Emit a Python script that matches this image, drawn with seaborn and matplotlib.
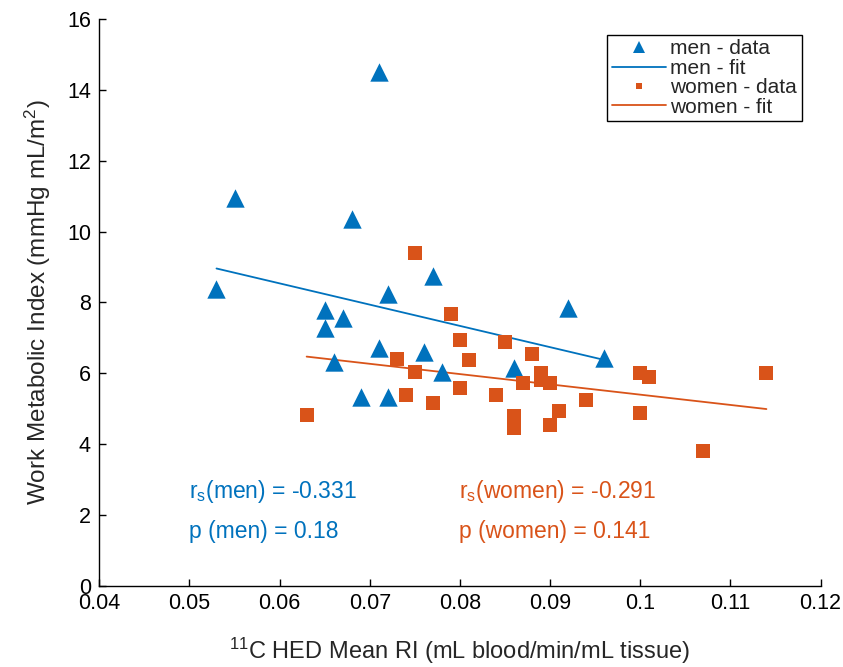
import numpy as np
import pandas as pd
import seaborn as sns
import matplotlib
matplotlib.use("Agg")
import matplotlib.pyplot as plt
from matplotlib.lines import Line2D

# ---- data ----
men_x = [0.053, 0.055, 0.071, 0.068, 0.077, 0.072, 0.065, 0.067, 0.065,
         0.092, 0.096, 0.071, 0.076, 0.066, 0.078, 0.086, 0.069, 0.072]
men_y = [8.38, 10.95, 14.51, 10.34, 8.75, 8.24, 7.78, 7.55, 7.27,
         7.83, 6.42, 6.70, 6.61, 6.32, 6.04, 6.15, 5.32, 5.34]

women_x = [0.063, 0.073, 0.074, 0.075, 0.075, 0.077, 0.079, 0.080, 0.080,
           0.081, 0.084, 0.085, 0.086, 0.086, 0.087, 0.088, 0.089, 0.089,
           0.090, 0.090, 0.091, 0.094, 0.100, 0.101, 0.100, 0.107, 0.114]
women_y = [4.83, 6.39, 5.38, 9.38, 6.02, 5.15, 7.66, 6.94, 5.57,
           6.37, 5.38, 6.87, 4.79, 4.44, 5.71, 6.53, 6.00, 5.81,
           5.71, 4.53, 4.92, 5.23, 6.00, 5.88, 4.87, 3.79, 6.00]

x_ticks = [0.04, 0.05, 0.06, 0.07, 0.08, 0.09, 0.1, 0.11, 0.12]
x_tick_labels = ["0.04", "0.05", "0.06", "0.07", "0.08", "0.09", "0.1", "0.11", "0.12"]
y_ticks = [0, 2, 4, 6, 8, 10, 12, 14, 16]

stats_men = ["r$_{\\mathrm{s}}$(men) = -0.331", "p (men) = 0.18"]
stats_women = ["r$_{\\mathrm{s}}$(women) = -0.291", "p (women) = 0.141"]
legend_labels = ["men - data", "men - fit", "women - data", "women - fit"]

BLUE = "#0072BD"
ORANGE = "#D95319"

sns.set_theme(style="ticks")
plt.rcParams["font.family"] = ["Liberation Sans", "DejaVu Sans"]
plt.rcParams["mathtext.fontset"] = "custom"
plt.rcParams["mathtext.rm"] = "Liberation Sans"
plt.rcParams["mathtext.it"] = "Liberation Sans:italic"
plt.rcParams["mathtext.bf"] = "Liberation Sans:bold"

men = pd.DataFrame({"x": men_x, "y": men_y})
women = pd.DataFrame({"x": women_x, "y": women_y})

fig = plt.figure(figsize=(8.43, 6.67), dpi=100)
ax = fig.add_axes([99.3 / 843, 1 - 585.7 / 667, 721.2 / 843, 566.7 / 667])

FS = 15.5

sns.scatterplot(data=men, x="x", y="y", marker="^", color=BLUE, s=175,
                linewidth=0, ax=ax, zorder=3)
sns.scatterplot(data=women, x="x", y="y", marker="s", color=ORANGE, s=88,
                linewidth=0, ax=ax, zorder=3)
sns.regplot(data=men, x="x", y="y", scatter=False, ci=None, truncate=True,
            color=BLUE, line_kws={"linewidth": 1.3}, ax=ax)
sns.regplot(data=women, x="x", y="y", scatter=False, ci=None, truncate=True,
            color=ORANGE, line_kws={"linewidth": 1.3}, ax=ax)

ax.set_xlim(0.04, 0.12)
ax.set_ylim(0, 16)
ax.set_xticks(x_ticks)
ax.set_xticklabels(x_tick_labels)
ax.set_yticks(y_ticks)
ax.tick_params(axis="both", direction="in", length=5, width=1,
               labelsize=FS, colors="black")
ax.tick_params(axis="x", pad=5)
ax.tick_params(axis="y", pad=6)
for s in ["top", "right"]:
    ax.spines[s].set_visible(False)
for s in ["left", "bottom"]:
    ax.spines[s].set_linewidth(1.0)
    ax.spines[s].set_color("black")

ax.set_xlabel("$^{11}$C HED Mean RI (mL blood/min/mL tissue)", fontsize=17, labelpad=16)
ax.set_ylabel("Work Metabolic Index (mmHg mL/m$^{2}$)", fontsize=17.5, labelpad=10)

TFS = 16.5
ax.text(0.0499, 2.65, stats_men[0], color=BLUE, fontsize=TFS, ha="left", va="center")
ax.text(0.0499, 1.52, stats_men[1], color=BLUE, fontsize=TFS, ha="left", va="center")
ax.text(0.0799, 2.65, stats_women[0], color=ORANGE, fontsize=TFS, ha="left", va="center")
ax.text(0.0799, 1.52, stats_women[1], color=ORANGE, fontsize=TFS, ha="left", va="center")

handles = [
    Line2D([], [], linestyle="none", marker="^", color=BLUE, markersize=8, markeredgewidth=0),
    Line2D([], [], color=BLUE, linewidth=1.3),
    Line2D([], [], linestyle="none", marker="s", color=ORANGE, markersize=5, markeredgewidth=0),
    Line2D([], [], color=ORANGE, linewidth=1.3),
]
leg = ax.legend(handles, legend_labels, loc="upper right",
                bbox_to_anchor=(0.974, 0.972), borderaxespad=0,
                fontsize=15, frameon=True, fancybox=False,
                handlelength=2.6, handletextpad=0.2, labelspacing=0.02,
                borderpad=0.22)
leg.get_frame().set_edgecolor("black")
leg.get_frame().set_linewidth(1.0)
leg.get_frame().set_alpha(1)

fig.savefig("out.png", dpi=100)
